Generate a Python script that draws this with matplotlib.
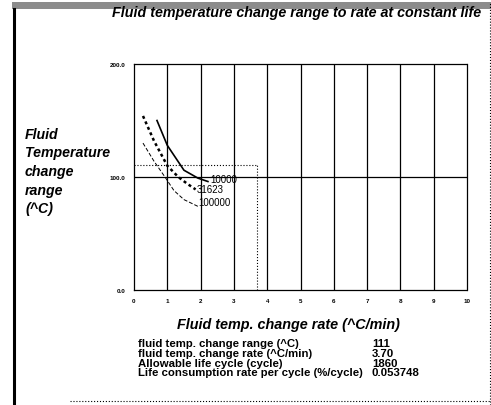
import matplotlib
matplotlib.use("Agg")

import matplotlib.pyplot as plt
from matplotlib.patches import Rectangle
from matplotlib.lines import Line2D

# curve data (constant-life lines)
life_10000_x = [0.69, 1.0, 1.5, 1.92, 2.22]
life_10000_y = [150, 128, 106, 99, 96]
life_31623_x = [0.27, 0.6, 1.0, 1.33, 1.6, 1.85]
life_31623_y = [154, 132, 110, 100, 94, 89]
life_100000_x = [0.27, 0.6, 0.93, 1.2, 1.5, 1.92]
life_100000_y = [130, 114, 100, 88, 80, 74]

curve_labels = ["10000", "31623", "100000"]
label_x = [2.28, 1.89, 1.92]
label_y = [98.5, 89.5, 77.5]

# operating point
op_rate = 3.70
op_range = 111

x_ticks = list(range(0, 11))
y_ticks = [0, 100, 200]
y_tick_labels = ["0.0", "100.0", "200.0"]

info_names = [
    "fluid temp. change range (^C)",
    "fluid temp. change rate (^C/min)",
    "Allowable life cycle (cycle)",
    "Life consumption rate per cycle (%/cycle)",
]
info_values = ["111", "3.70", "1860", "0.053748"]

FONT = "Liberation Sans"

fig = plt.figure(figsize=(4.91, 4.06), dpi=100)

# window frame bits
fig.patches.append(Rectangle((12 / 491, 1 - 10 / 406), 479 / 491, 7 / 406,
                             transform=fig.transFigure, facecolor="#8c8c8c",
                             edgecolor="none"))
fig.add_artist(Line2D([14 / 491, 14 / 491], [0, 1 - 10 / 406],
                      transform=fig.transFigure, color="black", lw=2.2))
fig.add_artist(Line2D([490 / 491, 490 / 491], [0, 1 - 3 / 406],
                      transform=fig.transFigure, color="black", lw=0.8, ls=":"))
fig.add_artist(Line2D([70 / 491, 491 / 491], [4 / 406, 4 / 406],
                      transform=fig.transFigure, color="black", lw=0.8, ls=":"))

ax = fig.add_axes([134 / 491, 115 / 406, 333 / 491, 226 / 406])
ax.set_xlim(0, 10)
ax.set_ylim(0, 200)

for xv in x_ticks[1:-1]:
    ax.axvline(xv, color="black", lw=0.9)
ax.axhline(100, color="black", lw=0.9)

for sp in ax.spines.values():
    sp.set_linewidth(0.9)
    sp.set_linestyle((0, (2, 1)))

ax.set_xticks(x_ticks)
ax.set_xticklabels([str(v) for v in x_ticks], fontsize=4.5,
                   fontweight="bold", family=FONT)
ax.set_yticks(y_ticks)
ax.set_yticklabels(y_tick_labels, fontsize=4.5, fontweight="bold", family=FONT)
ax.tick_params(length=0, pad=6)

# operating point guides
ax.plot([0, op_rate], [op_range, op_range], color="black", lw=0.8, ls=":")
ax.plot([op_rate, op_rate], [0, op_range], color="black", lw=0.8, ls=":")

ax.plot(life_10000_x, life_10000_y, color="black", lw=1.2, ls="-")
ax.plot(life_31623_x, life_31623_y, color="black", lw=1.8, ls=(0, (1.2, 1.2)))
ax.plot(life_100000_x, life_100000_y, color="black", lw=0.7, ls=(0, (4, 2)))

for lx, ly, txt in zip(label_x, label_y, curve_labels):
    ax.text(lx, ly, txt, fontsize=7, family=FONT, ha="left", va="center")

fig.text(297 / 491, 1 - 13 / 406,
         "Fluid temperature change range to rate at constant life",
         fontsize=10.3, fontweight="bold", style="italic", family=FONT,
         ha="center", va="center")

fig.text(25 / 491, 1 - 172 / 406, "Fluid\nTemperature\nchange\nrange\n(^C)",
         fontsize=10.2, fontweight="bold", style="italic", family=FONT,
         ha="left", va="center", linespacing=1.42)

fig.text(288 / 491, 1 - 325 / 406, "Fluid temp. change rate (^C/min)",
         fontsize=10.4, fontweight="bold", style="italic", family=FONT,
         ha="center", va="center")

for i, (name, val) in enumerate(zip(info_names, info_values)):
    yy = 1 - (344 + i * 9.8) / 406
    fig.text(138 / 491, yy, name, fontsize=8.2, fontweight="bold",
             family=FONT, ha="left", va="center")
    fig.text(372 / 491, yy, val, fontsize=8.2, fontweight="bold",
             family=FONT, ha="left", va="center")

fig.savefig("out.png", dpi=100)
